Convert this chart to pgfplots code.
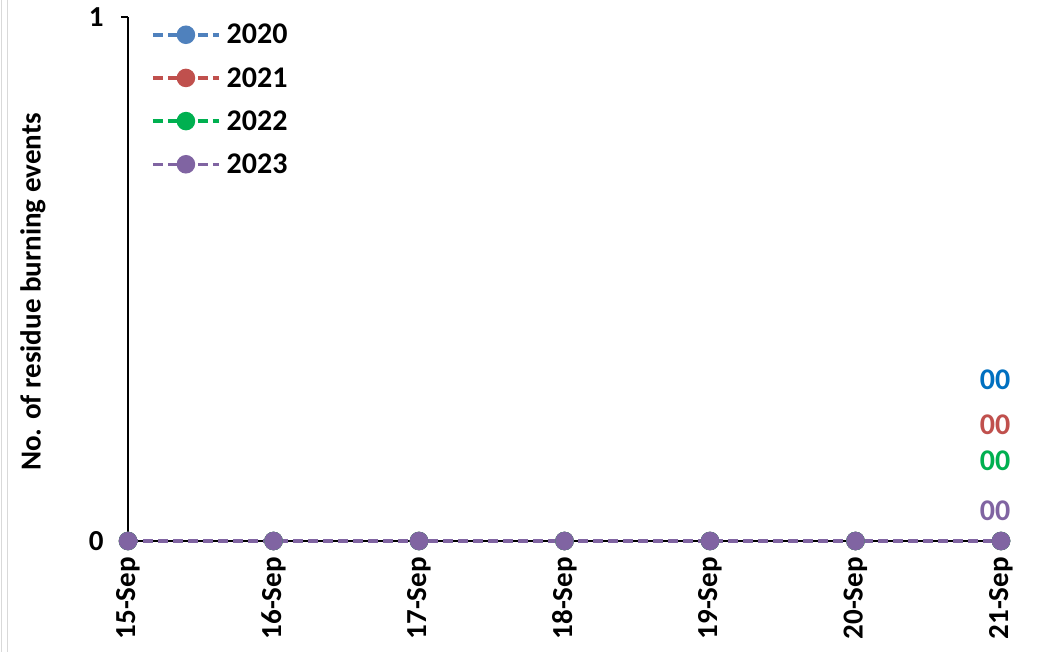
\documentclass[border=0pt]{standalone}
\usepackage{pgfplots}
\pgfplotsset{compat=1.18}
\usepackage{fontspec}
\setmainfont{Carlito}
\definecolor{c20}{RGB}{79,129,189}
\definecolor{c21}{RGB}{192,80,77}
\definecolor{c22}{RGB}{0,176,80}
\definecolor{c23}{RGB}{128,100,162}
\definecolor{l20}{RGB}{0,112,192}
\definecolor{l21}{RGB}{192,80,77}
\definecolor{l22}{RGB}{0,176,80}
\definecolor{l23}{RGB}{128,100,162}
\begin{document}
\begin{tikzpicture}[x=1bp,y=1bp]
\useasboundingbox (0,0) rectangle (1043,652);
\fill[white] (0,0) rectangle (1043,652);
\draw[black!15, line width=1.5bp] (1.5,0) -- (1.5,652);
\draw[black!15, line width=1.5bp] (7.5,0) -- (7.5,652);
\begin{axis}[
  at={(128bp,111bp)}, anchor=south west,
  scale only axis, width=873bp, height=524bp,
  xmin=0, xmax=6, ymin=0, ymax=1,
  clip=false,
  axis x line*=bottom, axis y line*=left,
  axis line style={line width=1.5bp, black, -},
  tick align=outside, major tick length=7bp,
  tick style={line width=1.5bp, black},
  xtick={0,1,2,3,4,5,6},
  xticklabels={15-Sep,16-Sep,17-Sep,18-Sep,19-Sep,20-Sep,21-Sep},
  xticklabel style={rotate=90, anchor=east, font=\fontsize{29bp}{32bp}\selectfont\bfseries, inner sep=2bp, xshift=-7bp},
  ytick={0,1},
  yticklabel style={font=\fontsize{29bp}{32bp}\selectfont\bfseries, /pgf/number format/assume math mode=true, xshift=-14bp},
  ylabel={No. of residue burning events},
  ylabel style={at={(axis description cs:-0.1088,0.475)}, anchor=center, font=\fontsize{29bp}{32bp}\selectfont\bfseries},
  every axis plot/.append style={line width=3.5bp, dash pattern=on 10bp off 5bp, mark=*, mark size=7.5bp, mark options={solid}},
  legend image code/.code={\draw[mark repeat=2,mark phase=2] plot coordinates {(0bp,0bp) (33bp,0bp) (66bp,0bp)};},
  legend style={draw=none, fill=none, at={(rel axis cs:0,1)}, anchor=north west, xshift=20bp, yshift=-2bp,
    font=\fontsize{30bp}{32bp}\selectfont\bfseries, row sep=16bp, nodes={inner sep=3bp},
    /tikz/every odd column/.append style={column sep=3bp}},
  legend cell align=left,
]
\addplot[color=c20] coordinates {(0,0) (1,0) (2,0) (3,0) (4,0) (5,0) (6,0)};
\addlegendentry{2020}
\addplot[color=c21] coordinates {(0,0) (1,0) (2,0) (3,0) (4,0) (5,0) (6,0)};
\addlegendentry{2021}
\addplot[color=c22] coordinates {(0,0) (1,0) (2,0) (3,0) (4,0) (5,0) (6,0)};
\addlegendentry{2022}
\addplot[color=c23] coordinates {(0,0) (1,0) (2,0) (3,0) (4,0) (5,0) (6,0)};
\addlegendentry{2023}
\node[font=\fontsize{30bp}{32bp}\selectfont\bfseries, text=l20] at (axis cs:5.959,0.307) {00};
\node[font=\fontsize{30bp}{32bp}\selectfont\bfseries, text=l21] at (axis cs:5.959,0.221) {00};
\node[font=\fontsize{30bp}{32bp}\selectfont\bfseries, text=l22] at (axis cs:5.959,0.153) {00};
\node[font=\fontsize{30bp}{32bp}\selectfont\bfseries, text=l23] at (axis cs:5.959,0.057) {00};
\end{axis}
\end{tikzpicture}
\end{document}
